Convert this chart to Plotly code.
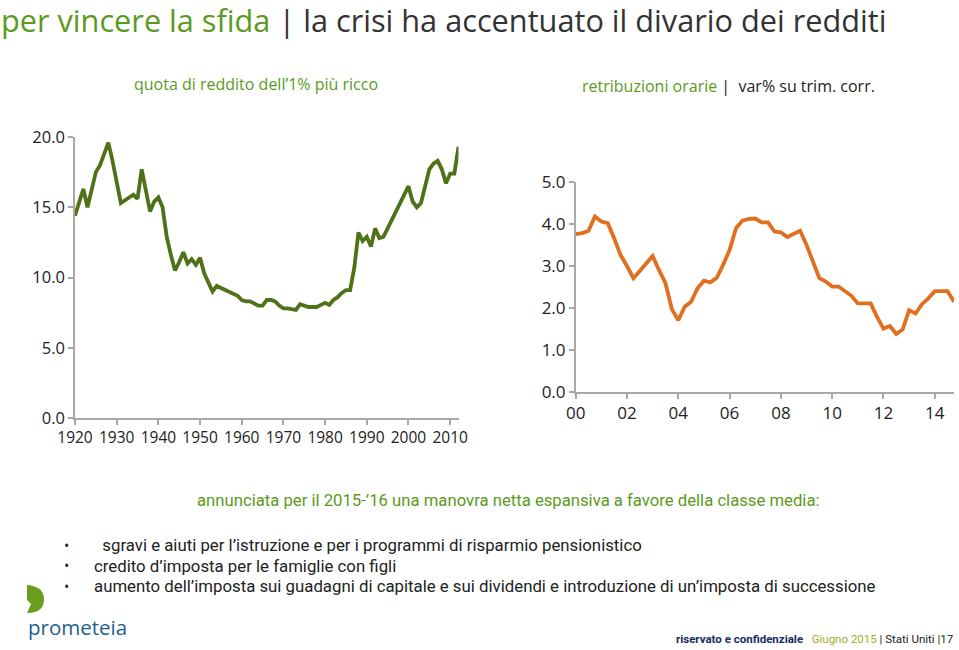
import plotly.graph_objects as go

# ---------------- data ----------------
top1_years = list(range(1920, 2013))
top1_share = [14.4, 15.4, 16.3, 15.0, 16.3, 17.5, 18.0, 18.8, 19.6, 18.3,
              16.7, 15.3, 15.5, 15.7, 15.9, 15.6, 17.7, 16.2, 14.7, 15.4,
              15.7, 15.0, 12.9, 11.6, 10.5, 11.1, 11.8, 11.0, 11.3, 10.9,
              11.4, 10.3, 9.7, 9.0, 9.4, 9.25, 9.1, 9.0, 8.85, 8.7,
              8.4, 8.3, 8.3, 8.15, 8.0, 8.0, 8.4, 8.4, 8.3, 8.0,
              7.8, 7.8, 7.75, 7.7, 8.1, 8.0, 7.9, 7.9, 7.9, 8.05,
              8.2, 8.05, 8.4, 8.6, 8.9, 9.1, 9.1, 10.7, 13.2, 12.6,
              12.9, 12.2, 13.5, 12.8, 12.9, 13.5, 14.1, 14.7, 15.3, 15.9,
              16.5, 15.4, 15.0, 15.3, 16.4, 17.7, 18.1, 18.3, 17.7, 16.7,
              17.4, 17.4, 19.3]

wage_quarters = [f"{y}Q{q}" for y in range(2000, 2015) for q in range(1, 5)]
wage_growth = [3.76, 3.78, 3.84, 4.18, 4.06, 4.02, 3.66, 3.26, 3.0, 2.71,
               2.88, 3.07, 3.24, 2.9, 2.59, 1.97, 1.71, 2.03, 2.15, 2.47,
               2.65, 2.61, 2.72, 3.03, 3.38, 3.9, 4.08, 4.12, 4.13, 4.04,
               4.04, 3.82, 3.8, 3.69, 3.76, 3.84, 3.5, 3.1, 2.71, 2.63,
               2.51, 2.51, 2.39, 2.29, 2.11, 2.11, 2.11, 1.79, 1.51, 1.57,
               1.38, 1.49, 1.95, 1.87, 2.09, 2.23, 2.4, 2.4, 2.4, 2.15]

left_xticks = [1920, 1930, 1940, 1950, 1960, 1970, 1980, 1990, 2000, 2010]
left_yticks = [0, 5, 10, 15, 20]
right_xticks = [2000, 2002, 2004, 2006, 2008, 2010, 2012, 2014]
right_xlabels = ["00", "02", "04", "06", "08", "10", "12", "14"]
right_yticks = [0, 1, 2, 3, 4, 5]

wage_x = [int(s[:4]) + (int(s[-1]) - 1) / 4 for s in wage_quarters]

# ---------------- style ----------------
W, H = 959, 650
GREEN_LINE = "#4f7118"
ORANGE_LINE = "#e0701f"
GREEN_TXT = "#5a9a1e"
DARK = "#222222"
AXIS = "#a8a8a8"
FONT = "Open Sans, Noto Sans, sans-serif"
NARROW = "Roboto, sans-serif"


def px(x):
    return x / W


def py(y):
    return 1 - y / H


fig = go.Figure()
fig.add_trace(go.Scatter(x=top1_years, y=top1_share, mode="lines",
                         line=dict(color=GREEN_LINE, width=3.8),
                         xaxis="x", yaxis="y", showlegend=False))
fig.add_trace(go.Scatter(x=wage_x, y=wage_growth, mode="lines",
                         line=dict(color=ORANGE_LINE, width=3.8),
                         xaxis="x2", yaxis="y2", showlegend=False))

axis_common = dict(showgrid=False, zeroline=False, showline=True,
                   linecolor=AXIS, linewidth=1.5, ticks="outside",
                   tickcolor=AXIS, ticklen=5, tickwidth=1.5, automargin=False)

fig.update_layout(
    width=W, height=H,
    margin=dict(l=0, r=0, t=0, b=0, autoexpand=False),
    paper_bgcolor="white", plot_bgcolor="white",
    xaxis=dict(axis_common, domain=[px(75), px(458.5)], range=[1920, 2012],
               tickvals=left_xticks, anchor="y",
               tickfont=dict(family=FONT, size=15.5, color=DARK)),
    yaxis=dict(axis_common, domain=[py(418), py(137)], range=[0, 20],
               tickvals=left_yticks, tickformat=".1f", anchor="x",
               tickfont=dict(family=FONT, size=16.5, color=DARK)),
    xaxis2=dict(axis_common, domain=[px(575.7), px(954)], range=[2000, 2014.75],
                tickvals=right_xticks, ticktext=right_xlabels, anchor="y2",
                tickfont=dict(family=FONT, size=17, color=DARK)),
    yaxis2=dict(axis_common, domain=[py(392), py(182)], range=[0, 5],
                tickvals=right_yticks, tickformat=".1f", anchor="x2",
                tickfont=dict(family=FONT, size=17, color=DARK)),
)

ann = []
ann.append(dict(
    text=f"<span style='color:{GREEN_TXT}'>per vincere la sfida</span> "
         f"<span style='color:#333333'>| la crisi ha accentuato il divario dei redditi</span>",
    x=px(-1), y=py(20), xanchor="left", yanchor="middle",
    font=dict(family=FONT, size=30.7, color="#333333")))
ann.append(dict(text="quota di reddito dell’1% più ricco",
                x=px(256), y=py(84), xanchor="center", yanchor="middle",
                font=dict(family=FONT, size=16, color=GREEN_TXT)))
ann.append(dict(text=f"<span style='color:{GREEN_TXT}'>retribuzioni orarie</span>"
                     f"<span style='color:{DARK}'> |  var% su trim. corr.</span>",
                x=px(580), y=py(86), xanchor="left", yanchor="middle",
                font=dict(family=FONT, size=16, color=DARK)))
ann.append(dict(text="annunciata per il 2015-’16 una manovra netta espansiva a favore della classe media:",
                x=px(195), y=py(500), xanchor="left", yanchor="middle",
                font=dict(family=NARROW, size=16.7, color=GREEN_TXT)))
bullets = ["  sgravi e aiuti per l’istruzione e per i programmi di risparmio pensionistico",
           "credito d’imposta per le famiglie con figli",
           "aumento dell’imposta sui guadagni di capitale e sui dividendi e introduzione di un’imposta di successione"]
for i, b in enumerate(bullets):
    yy = 545 + i * 20.5
    ann.append(dict(text="•", x=px(66), y=py(yy), xanchor="center", yanchor="middle",
                    font=dict(family=FONT, size=14, color=DARK)))
    ann.append(dict(text=b, x=px(92), y=py(yy), xanchor="left", yanchor="middle",
                    font=dict(family=NARROW, size=16.8, color=DARK)))
ann.append(dict(text="prometeia", x=px(26), y=py(627), xanchor="left", yanchor="middle",
                font=dict(family=FONT, size=20.5, color="#1f5f8f")))
ann.append(dict(text="<b><span style='color:#1b2a5c'>riservato e confidenziale</span></b>   "
                     "<span style='color:#a3ad2a'>Giugno 2015</span>"
                     f"<span style='color:{DARK}'> | Stati Uniti |17</span>",
                x=px(955), y=py(639), xanchor="right", yanchor="middle",
                font=dict(family=NARROW, size=11.5, color=DARK)))
for a in ann:
    a.update(xref="paper", yref="paper", showarrow=False)
fig.update_layout(annotations=ann)

# prometeia logo mark
path = (f"M {px(27)},{py(585)} "
        f"C {px(40)},{py(586)} {px(44)},{py(592)} {px(44)},{py(599)} "
        f"C {px(44)},{py(607)} {px(40)},{py(613)} {px(27)},{py(613)} "
        f"L {px(31)},{py(604)} L {px(27)},{py(600)} Z")
fig.add_shape(type="path", path=path, xref="paper", yref="paper",
              fillcolor="#6a9e1f", line=dict(width=0))

fig.write_html("out.html",
               config={"displayModeBar": False},
               post_script="document.body.style.margin='0';"
                           "document.body.style.overflow='hidden';")
